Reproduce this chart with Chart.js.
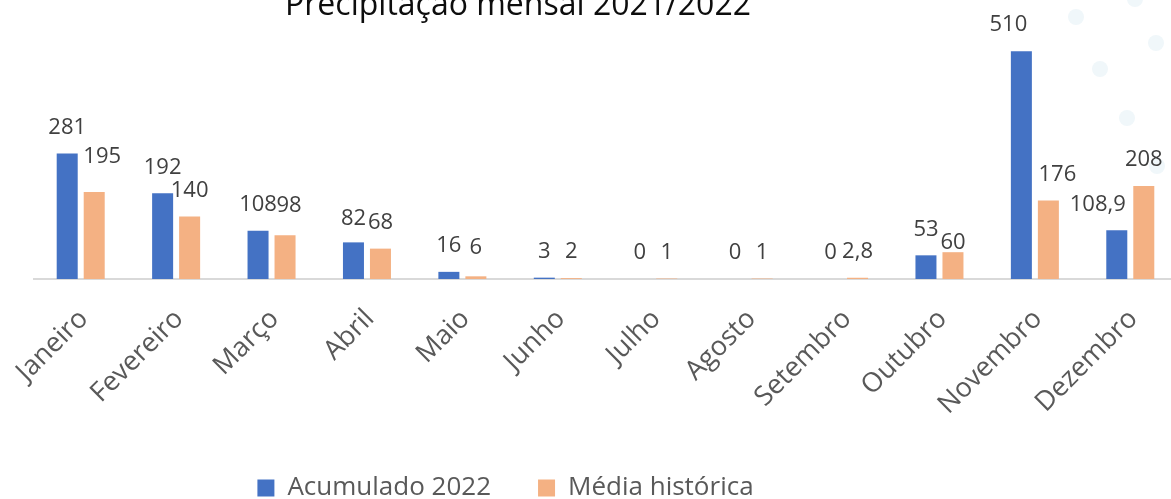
<!DOCTYPE html>
<html>
<head>
<meta charset="utf-8">
<script src="https://cdn.jsdelivr.net/npm/chart.js@4.4.0/dist/chart.umd.min.js"></script>
<style>
  html, body { margin: 0; padding: 0; background: #fff; overflow: hidden; }
  #wrap { width: 1178px; height: 499px; }
</style>
</head>
<body>
<div id="wrap"><canvas id="chuva" width="1178" height="499"></canvas></div>
<script>
const meses = ['Janeiro', 'Fevereiro', 'Março', 'Abril', 'Maio', 'Junho', 'Julho',
  'Agosto', 'Setembro', 'Outubro', 'Novembro', 'Dezembro'];
const acumulado2022 = [281, 192, 108, 82, 16, 3, 0, 0, 0, 53, 510, 108.9];
const mediaHistorica = [195, 140, 98, 68, 6, 2, 1, 1, 2.8, 60, 176, 208];
const yMax = 600;

// the labels were nudged by hand in the original, [dx, dy] per bar
const ajusteAcumulado = [[0, 0], [0, 0], [0, 0], [0, 2], [0, 0], [0, 0], [0, 0],
  [0, 0], [0, 0], [0, 0], [-13, 0], [-19, 0]];
const ajusteMedia = [[8, -9], [0, 0], [4, -3], [0, 0], [0, -3], [0, 0], [0, 0],
  [0, 0], [0, 0], [0, 17], [9, 0], [0, 0]];

const fonte = 'Open Sans';
const eixoY = 279; // where the baseline sits

// little pale dots in the corner of the original slide
const gotas = [[1076, 17], [1135, -1], [1156, 43], [1100, 69], [1127, 118], [1157, 166]];

function formatar(v) {
  return String(v).replace('.', ',');
}

const fundo = {
  id: 'fundo',
  beforeDraw(chart) {
    const ctx = chart.ctx;
    ctx.save();
    ctx.fillStyle = '#f0f7fa';
    gotas.forEach(function (g) {
      ctx.beginPath();
      ctx.arc(g[0], g[1], 8, 0, Math.PI * 2);
      ctx.fill();
    });
    ctx.fillStyle = '#0d0d0d';
    ctx.font = '32px "' + fonte + '"';
    ctx.textAlign = 'center';
    ctx.textBaseline = 'alphabetic';
    ctx.fillText('Precipitação mensal 2021/2022', 518, 15);
    ctx.restore();
  },
  // category axis line, only as wide as the categories
  beforeDatasetsDraw(chart) {
    const ctx = chart.ctx;
    const sx = chart.scales.x;
    const passo = sx.getPixelForValue(1) - sx.getPixelForValue(0);
    const x0 = sx.getPixelForValue(0) - passo / 2;
    const x1 = sx.getPixelForValue(meses.length - 1) + passo / 2;
    const y = chart.scales.y.getPixelForValue(0);
    ctx.save();
    ctx.strokeStyle = '#d9d9d9';
    ctx.lineWidth = 2;
    ctx.beginPath();
    ctx.moveTo(x0, y);
    ctx.lineTo(x1, y);
    ctx.stroke();
    ctx.restore();
  }
};

const rotulos = {
  id: 'rotulos',
  afterDatasetsDraw(chart) {
    const ctx = chart.ctx;
    ctx.save();
    ctx.font = '22px "' + fonte + '"';
    ctx.fillStyle = '#404040';
    ctx.textAlign = 'center';
    ctx.textBaseline = 'middle';
    const ajustes = [ajusteAcumulado, ajusteMedia];
    chart.data.datasets.forEach(function (ds, d) {
      chart.getDatasetMeta(d).data.forEach(function (bar, i) {
        const a = ajustes[d][i];
        ctx.fillText(formatar(ds.data[i]), bar.x + a[0], bar.y - 26 + a[1]);
      });
    });
    ctx.restore();
  }
};

// legend sits left of centre in the original
const moverLegenda = {
  id: 'moverLegenda',
  afterLayout(chart) {
    const lg = chart.legend;
    lg.left -= 100; lg.right -= 100;
    lg.top += 12; lg.bottom += 12;
  }
};

new Chart(document.getElementById('chuva'), {
  type: 'bar',
  data: {
    labels: meses,
    datasets: [
      {
        label: 'Acumulado 2022',
        data: acumulado2022,
        backgroundColor: '#4472c4',
        categoryPercentage: 0.566,
        barPercentage: 0.778,
      },
      {
        label: 'Média histórica',
        data: mediaHistorica,
        backgroundColor: '#f4b183',
        categoryPercentage: 0.566,
        barPercentage: 0.778,
      },
    ],
  },
  options: {
    responsive: false,
    animation: false,
    layout: { padding: { top: 11, left: 33, right: 0, bottom: 0 } },
    plugins: {
      title: { display: false },
      tooltip: { enabled: false },
      legend: {
        position: 'bottom',
        labels: {
          boxWidth: 17,
          boxHeight: 17,
          padding: 47,
          color: '#595959',
          font: { family: fonte, size: 26 },
        },
      },
    },
    scales: {
      y: { display: false, min: 0, max: yMax },
      x: {
        grid: { display: false, drawTicks: false },
        border: { display: false },
        ticks: {
          color: '#595959',
          font: { family: fonte, size: 27 },
          minRotation: 45,
          maxRotation: 45,
          padding: 24,
          labelOffset: 3,
        },
        afterFit(scale) {
          scale.height = scale.chart.height - eixoY - scale.chart.legend.height;
          // don't let the long rotated labels push the plot inwards
          scale.paddingLeft = 0;
          scale.paddingRight = 0;
        },
      },
    },
  },
  plugins: [fundo, rotulos, moverLegenda],
});
</script>
</body>
</html>
